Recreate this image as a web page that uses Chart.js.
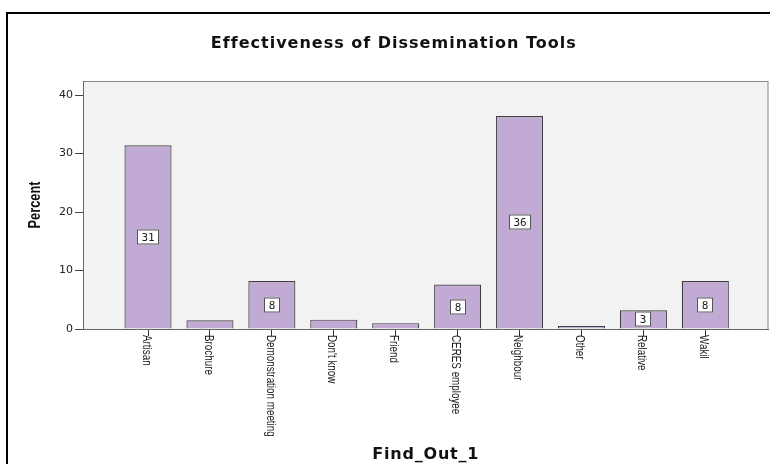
<!DOCTYPE html>
<html>
<head>
<meta charset="utf-8">
<script src="https://cdn.jsdelivr.net/npm/chart.js@4"></script>
<style>
  body { margin: 0; background: #fff; }
  #wrap { width: 770px; height: 464px; position: relative; }
</style>
</head>
<body>
<div id="wrap"><canvas id="miGrafico"></canvas></div>
<script>
// datos
const categorias = ['Artisan', 'Brochure', 'Demonstration meeting', "Don't know", 'Friend',
  'CERES employee', 'Neighbour', 'Other', 'Relative', 'Wakil'];
const porcentajes = [31.4, 1.5, 8.2, 1.6, 1.0, 7.6, 36.4, 0.5, 3.2, 8.2];
const ticksY = [0, 10, 20, 30, 40];
const titulo = 'Effectiveness of Dissemination Tools';
const tituloX = 'Find_Out_1';
const tituloY = 'Percent';

// fondo gris del area y marco negro
const fondoPlugin = {
  id: 'fondo',
  beforeDraw(chart) {
    const { ctx, chartArea: a } = chart;
    ctx.save();
    ctx.lineWidth = 2;
    ctx.strokeStyle = '#000';
    ctx.strokeRect(7, 13, 900, 600);
    ctx.fillStyle = '#f2f2f2';
    ctx.fillRect(a.left, a.top, a.right - a.left, a.bottom - a.top);
    ctx.lineWidth = 1;
    ctx.strokeStyle = '#8a8a8a';
    ctx.strokeRect(a.left + 0.5, a.top + 0.5, a.right - a.left - 1, a.bottom - a.top);
    ctx.restore();
  }
};

// etiquetas de valor dentro de las barras, etiquetas del eje x giradas y titulos
const etiquetasPlugin = {
  id: 'etiquetas',
  afterDatasetsDraw(chart) {
    const { ctx } = chart;
    const meta = chart.getDatasetMeta(0);
    ctx.save();
    ctx.font = '11px "DejaVu Sans Mono"';
    ctx.textAlign = 'center';
    ctx.textBaseline = 'middle';
    meta.data.forEach((bar, i) => {
      const v = porcentajes[i];
      if (v < 2) return;
      const txt = String(Math.round(v));
      const w = Math.round(ctx.measureText(txt).width) + 9;
      const h = 15;
      const cx = Math.round(bar.x);
      const cy = Math.round((bar.y + bar.base) / 2);
      ctx.fillStyle = '#fff';
      ctx.fillRect(cx - w / 2, cy - h / 2, w, h);
      ctx.strokeStyle = '#555';
      ctx.lineWidth = 1;
      ctx.strokeRect(cx - w / 2 + 0.5, cy - h / 2 + 0.5, w - 1, h - 1);
      ctx.fillStyle = '#1a1a1a';
      ctx.fillText(txt, cx, cy + 1);
    });
    ctx.restore();
  },
  afterDraw(chart) {
    const { ctx, chartArea: a } = chart;
    const xs = chart.scales.x;
    ctx.save();
    // etiquetas del eje x (fuente estrecha)
    ctx.font = '12px "Liberation Sans"';
    ctx.fillStyle = '#1a1a1a';
    ctx.textAlign = 'left';
    ctx.textBaseline = 'middle';
    categorias.forEach((c, i) => {
      const x = xs.getPixelForValue(i);
      ctx.save();
      ctx.translate(x - 2, xs.top + 6);
      ctx.rotate(Math.PI / 2);
      ctx.scale(0.82, 1);
      ctx.fillText(c, 0, 0);
      ctx.restore();
    });

    // titulo principal
    ctx.fillStyle = '#111';
    ctx.textAlign = 'center';
    ctx.font = 'bold 16px "DejaVu Sans"';
    ctx.letterSpacing = '1px';
    ctx.fillText(titulo, (a.left + a.right) / 2 - 32, 44);

    // titulo eje x
    ctx.letterSpacing = '0.8px';
    ctx.fillText(tituloX, (a.left + a.right) / 2, 455);

    // titulo eje y
    ctx.letterSpacing = '0px';
    ctx.font = 'bold 16px "Liberation Sans"';
    ctx.save();
    ctx.translate(36, (a.top + a.bottom) / 2);
    ctx.rotate(-Math.PI / 2);
    ctx.scale(0.8, 1);
    ctx.fillText(tituloY, 0, 0);
    ctx.restore();
    ctx.restore();
  }
};

const ctx = document.getElementById('miGrafico').getContext('2d');
new Chart(ctx, {
  type: 'bar',
  data: {
    datasets: [{
      data: porcentajes.map((v, i) => ({ x: i, y: v })),
      backgroundColor: '#c1aad3',
      borderColor: '#3f3f3f',
      borderWidth: 1.2,
      barPercentage: 0.76,
      categoryPercentage: 1
    }]
  },
  options: {
    responsive: true,
    maintainAspectRatio: false,
    animation: false,
    layout: { padding: { left: 0, right: 1.5, top: 81, bottom: 0 } },
    plugins: {
      legend: { display: false },
      tooltip: { enabled: false },
      title: { display: false }
    },
    scales: {
      x: {
        type: 'linear',
        offset: false,
        min: -1.05,
        max: 10.02,
        afterBuildTicks(scale) {
          scale.ticks = categorias.map((c, i) => ({ value: i }));
        },
        afterFit(scale) { scale.height = 135; },
        ticks: { display: false },
        grid: { offset: false, drawOnChartArea: false, tickLength: 7, color: '#333' },
        border: { color: '#666', width: 1 }
      },
      y: {
        min: 0,
        max: 42.4,
        afterBuildTicks(scale) {
          scale.ticks = ticksY.map(v => ({ value: v }));
        },
        afterFit(scale) { scale.width = 83; },
        ticks: {
          color: '#222',
          padding: 2,
          font: { family: 'DejaVu Sans', size: 11 }
        },
        grid: { drawOnChartArea: false, tickLength: 8, color: '#444' },
        border: { color: '#666', width: 1 }
      }
    }
  },
  plugins: [fondoPlugin, etiquetasPlugin]
});
</script>
</body>
</html>
